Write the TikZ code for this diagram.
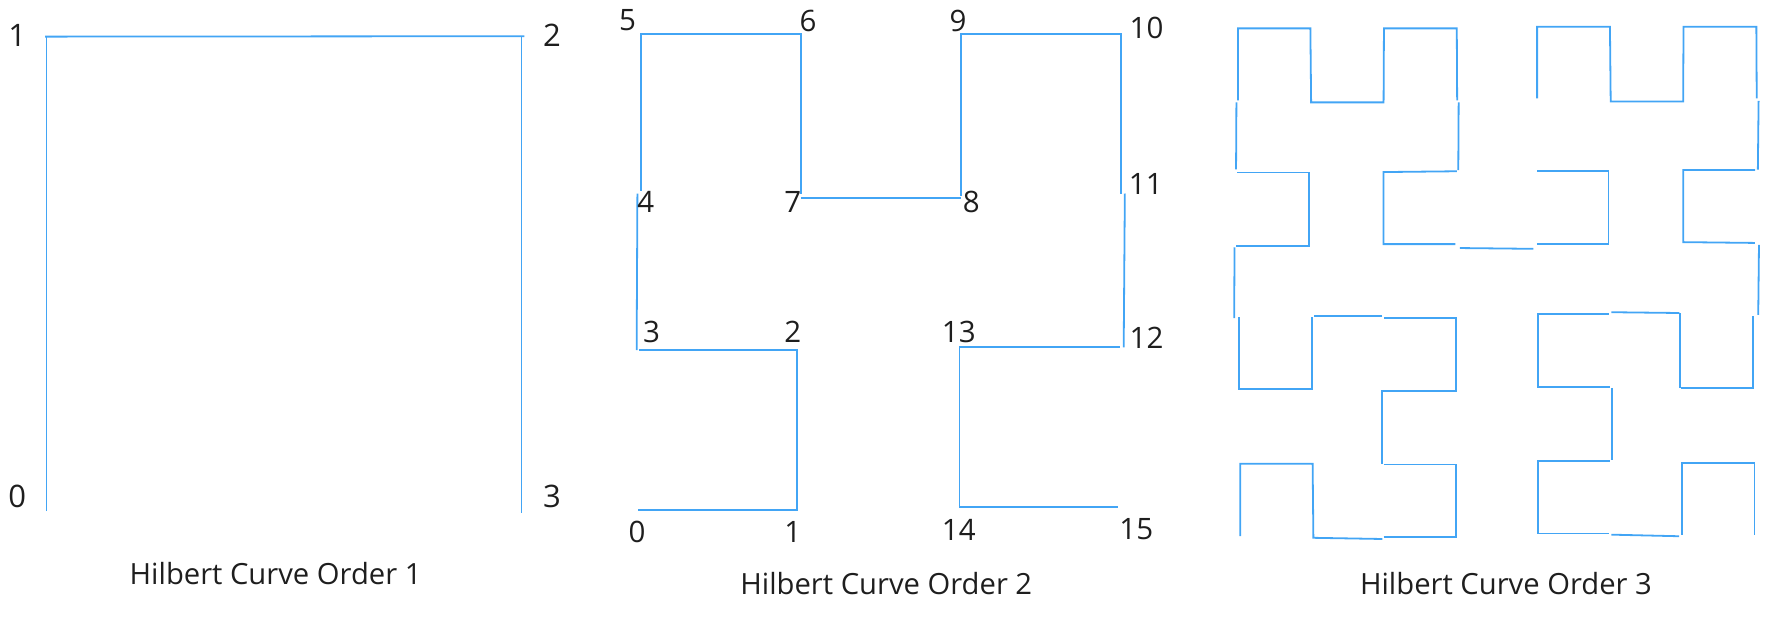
\documentclass[tikz,border=0pt]{standalone}
\usepackage{fontspec}
\setmainfont{Open Sans}
\definecolor{hblue}{HTML}{42A5F5}
\definecolor{htext}{HTML}{1E1E1E}
\begin{document}
\begin{tikzpicture}[x=1pt,y=-1pt,
  seg/.style={draw=hblue, line width=1.8pt, line join=miter},
  biglbl/.style={text=htext, inner sep=0pt, font=\fontsize{31}{36}\selectfont},
  lbl/.style={text=htext, inner sep=0pt, font=\fontsize{29.5}{34}\selectfont},
  ttl/.style={text=htext, inner sep=0pt, font=\fontsize{29.2}{34}\selectfont}]
\useasboundingbox (0,0) rectangle (1790,619);

% ---------- Order 1 ----------
\begin{scope}[x=0.3817pt, y=-0.3937pt]
  \draw[seg] (122,1298) -- (122,93);
  \draw[seg] (118,93) -- (1374,92);
  \draw[seg] (1366,95) -- (1366,1302);
  \node[biglbl] (a1) at (45,90) {1};
  \node[biglbl] (a2) at (1446,90) {2};
  \node[biglbl] (a0) at (45,1262) {0};
  \node[biglbl] (a3) at (1446,1262) {3};
  \node[ttl] (t1) at (722,1457) {Hilbert Curve Order 1};
\end{scope}

% ---------- Order 2 ----------
\begin{scope}[xshift=600pt, x=0.3817pt, y=-0.3937pt]
  \draw[seg] (100,1295) -- (517,1295) -- (517,889) -- (102,889);
  \draw[seg] (96,889) -- (98,492);
  \draw[seg] (107,485) -- (107,87) -- (526,87) -- (526,492);
  \draw[seg] (526,502) -- (946,502);
  \draw[seg] (946,497) -- (946,87) -- (1365,87) -- (1365,492);
  \draw[seg] (1375,492) -- (1372,882);
  \draw[seg] (1361,882) -- (942,882) -- (942,1287) -- (1357,1287);
  \node[lbl] (b5) at (72,52) {5};
  \node[lbl] (b6) at (545,52) {6};
  \node[lbl] (b9) at (938,52) {9};
  \node[lbl] (b10) at (1432,72) {10};
  \node[lbl] (b11) at (1430,468) {11};
  \node[lbl] (b4) at (120,512) {4};
  \node[lbl] (b7) at (505,512) {7};
  \node[lbl] (b8) at (973,512) {8};
  \node[lbl] (b3) at (135,842) {3};
  \node[lbl] (b2) at (505,842) {2};
  \node[lbl] (b13) at (940,842) {13};
  \node[lbl] (b12) at (1432,858) {12};
  \node[lbl] (b0) at (97,1350) {0};
  \node[lbl] (b1) at (505,1350) {1};
  \node[lbl] (b14) at (940,1345) {14};
  \node[lbl] (b15) at (1405,1345) {15};
  \node[ttl] (t2) at (750,1483) {Hilbert Curve Order 2};
\end{scope}

% ---------- Order 3 ----------
\begin{scope}[xshift=1200pt, x=0.3754pt, y=-0.3937pt]
  \draw[seg] (107,1362) -- (107,1178) -- (300,1178) -- (302,1366) -- (486,1369);
  \draw[seg] (489,1364) -- (681,1364) -- (681,1180) -- (489,1180);
  \draw[seg] (484,1178) -- (484,994) -- (681,994) -- (681,808) -- (489,808);
  \draw[seg] (486,803) -- (304,803);
  \draw[seg] (298,806) -- (298,989) -- (103,989) -- (103,806);
  \draw[seg] (91,808) -- (92,628);
  \draw[seg] (97,625) -- (291,625) -- (291,438) -- (98,438);
  \draw[seg] (96,430) -- (97,260);
  \draw[seg] (101,255) -- (101,72) -- (294,72) -- (296,260) -- (489,260) -- (490,72) -- (684,72) -- (685,255);
  \draw[seg] (689,260) -- (688,432);
  \draw[seg] (684,435) -- (489,437) -- (489,620) -- (680,620);
  \draw[seg] (692,630) -- (888,632);
  \draw[seg] (897,620) -- (1088,620) -- (1088,434) -- (897,434);
  \draw[seg] (898,250) -- (898,68) -- (1092,68) -- (1094,258) -- (1287,258) -- (1288,68) -- (1482,68) -- (1483,250);
  \draw[seg] (1488,256) -- (1486,431);
  \draw[seg] (1479,432) -- (1287,432) -- (1287,615) -- (1478,617);
  \draw[seg] (1489,622) -- (1487,800);
  \draw[seg] (1474,803) -- (1474,985) -- (1281,985);
  \draw[seg] (1279,985) -- (1279,795);
  \draw[seg] (1277,795) -- (1096,793);
  \draw[seg] (1090,798) -- (900,798) -- (900,983) -- (1092,983);
  \draw[seg] (1097,985) -- (1097,1168);
  \draw[seg] (1092,1170) -- (900,1170) -- (900,1355) -- (1090,1355);
  \draw[seg] (1096,1358) -- (1276,1362);
  \draw[seg] (1283,1358) -- (1283,1175) -- (1477,1175) -- (1477,1358);
  \node[ttl] (t3) at (815,1483) {Hilbert Curve Order 3};
\end{scope}
\end{tikzpicture}
\end{document}
